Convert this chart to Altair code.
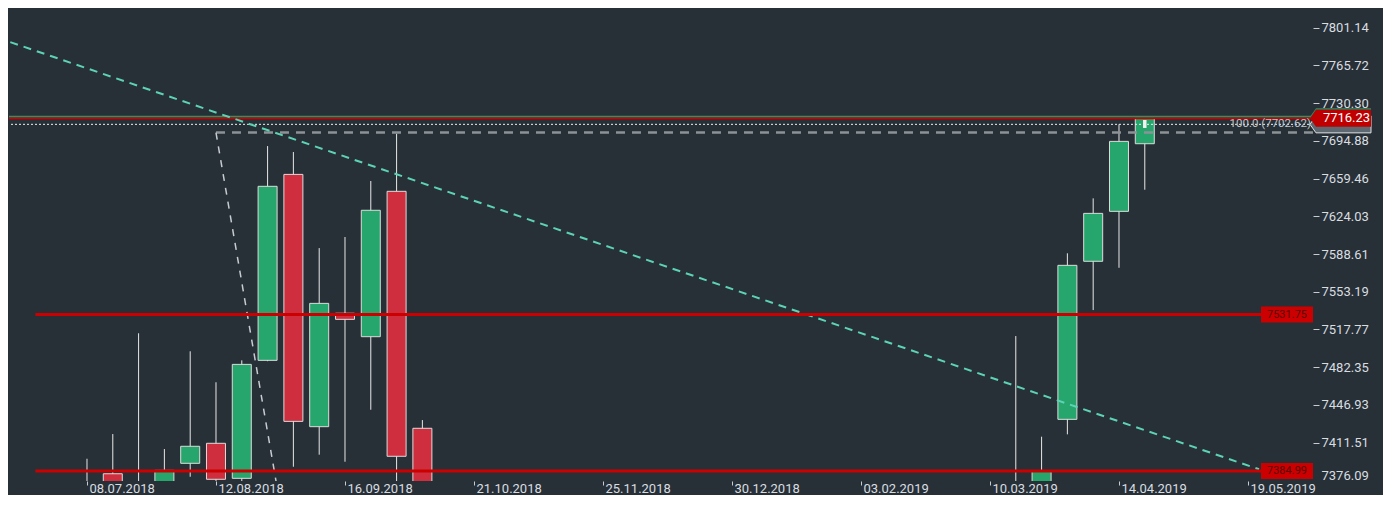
import altair as alt
import pandas as pd

# ---------------- data ----------------
dates = ["2018-07-08", "2018-07-15", "2018-07-22", "2018-07-29", "2018-08-05",
         "2018-08-12", "2018-08-19", "2018-08-26", "2018-09-02", "2018-09-09",
         "2018-09-16", "2018-09-23", "2018-09-30", "2018-10-07",
         "2019-03-17", "2019-03-24", "2019-03-31", "2019-04-07", "2019-04-14", "2019-04-21"]
opens = [7362.0, 7382.3, 7355.0, 7365.0, 7392.1, 7410.9, 7378.0, 7488.8, 7663.4, 7426.5,
         7533.0, 7511.0, 7647.5, 7425.0, 7360.0, 7362.0, 7433.4, 7581.8, 7628.7, 7692.2]
highs = [7396.4, 7419.6, 7514.2, 7405.5, 7497.3, 7468.2, 7488.8, 7690.0, 7684.4, 7594.2,
         7604.6, 7657.2, 7701.6, 7432.7, 7511.6, 7417.1, 7589.3, 7640.9, 7710.4, 7716.2]
lows = [7330.0, 7335.0, 7320.0, 7350.0, 7379.5, 7362.0, 7372.0, 7488.0, 7388.9, 7400.2,
        7393.6, 7442.4, 7368.0, 7345.0, 7340.0, 7350.0, 7419.3, 7536.0, 7575.7, 7649.0]
closes = [7355.0, 7352.0, 7360.0, 7385.5, 7408.1, 7377.1, 7485.0, 7652.2, 7431.5, 7542.3,
          7527.3, 7629.7, 7398.7, 7358.0, 7365.0, 7384.6, 7578.0, 7626.8, 7694.4, 7716.2]

xtick_dates = ["2018-07-08", "2018-08-12", "2018-09-16", "2018-10-21", "2018-11-25",
               "2018-12-30", "2019-02-03", "2019-03-10", "2019-04-14", "2019-05-19"]
ytick_values = [7376.09, 7411.51, 7446.93, 7482.35, 7517.77, 7553.19, 7588.61,
                7624.03, 7659.46, 7694.88, 7730.30, 7765.72, 7801.14]

level_values = [7531.75, 7384.99]
level_labels = ["7531.75", "7384.99"]
level_start = ["2018-06-24", "2018-06-24"]

trend_dates = ["2018-06-10", "2019-05-22"]
trend_values = [7796.1, 7386.5]

fib_dates = ["2018-08-12", "2018-08-29"]
fib_values = [7702.62, 7361.1]
fib_label = ["100.0 (7702.62)"]
fib_label_value = [7710.4]

price_current = [7716.23]
price_current_label = ["7716.23"]
price_green = [7717.6]
price_dotted = [7710.4]

marker_date = ["2019-04-21"]
marker_top = [7714.5]
marker_bottom = [7707.0]

# ---------------- helpers / styles ----------------
DAY = 86400000


def ms(s):
    return int(pd.Timestamp(s).value // 10**6)


W, H = 1304, 472
BG = "#273037"
GREEN = "#26a66d"
RED = "#cf2e3e"
LINE_RED = "#cc0000"
FONT = "Roboto"

base_ms = ms("2018-07-08")
xscale = alt.Scale(type="utc", domain=[base_ms - 21.16 * DAY, base_ms + 332.64 * DAY],
                   padding=0, nice=False)
yscale = alt.Scale(domain=[7375.5, 7818.7], zero=False, nice=False, padding=0)

xaxis = alt.Axis(values=[ms(d) for d in xtick_dates],
                 labelExpr="utcFormat(datum.value, '%d.%m.%Y')",
                 domain=False, grid=False, ticks=True, tickSize=4, tickWidth=1,
                 tickColor="#c8ccd0", labelAlign="left", labelOffset=2,
                 labelPadding=-3, labelBaseline="top", labelFont=FONT,
                 labelFontSize=13, labelColor="#d9dde0", title=None,
                 labelFlush=False, labelOverlap=False)
yaxis = alt.Axis(orient="right", values=ytick_values, format=".2f",
                 domain=False, grid=False, ticks=True, tickSize=6, tickWidth=1,
                 tickColor={"condition": {"test": "datum.value < 7380", "value": "transparent"},
                            "value": "#c8ccd0"},
                 labelOffset={"condition": {"test": "datum.value < 7380", "value": -5},
                              "value": 0},
                 labelPadding=2, labelFont=FONT, labelFontSize=13,
                 labelColor="#d9dde0", title=None, labelFlush=False,
                 labelOverlap=False)


def X(field):
    return alt.X(field, type="temporal", scale=xscale, axis=xaxis)


def Y(field):
    return alt.Y(field, type="quantitative", scale=yscale, axis=yaxis)


# ---------------- tables ----------------
candles = pd.DataFrame({"t": [ms(d) for d in dates], "open": opens, "high": highs,
                        "low": lows, "close": closes})
levels = pd.DataFrame({"t": [ms(d) for d in level_start], "v": level_values,
                       "label": level_labels})
trend = pd.DataFrame({"t": [ms(d) for d in trend_dates], "v": trend_values})
fib = pd.DataFrame({"t": [ms(d) for d in fib_dates], "v": fib_values})
fib_h = pd.DataFrame({"t": [ms(fib_dates[0])], "v": [fib_values[0]]})
fib_txt = pd.DataFrame({"v": fib_label_value, "label": fib_label})
cur = pd.DataFrame({"v": price_current, "label": price_current_label})
grn = pd.DataFrame({"v": price_green})
dot = pd.DataFrame({"v": price_dotted})
marker = pd.DataFrame({"t": [ms(d) for d in marker_date], "v": marker_top, "v2": marker_bottom})

# ---------------- layers ----------------
wicks = alt.Chart(candles).mark_rule(color="#e8e8e8", strokeWidth=1, clip=True).encode(
    x=X("t"), y=Y("low"), y2="high")

bodies = alt.Chart(candles).mark_bar(size=19, stroke="#dcdcdc", strokeWidth=1,
                                     clip=True).encode(
    x=X("t"), y=Y("open"), y2="close",
    color=alt.condition("datum.open < datum.close", alt.value(GREEN), alt.value(RED)))

mark_white = alt.Chart(marker).mark_rule(color="#f2f2f2", strokeWidth=3.5, clip=True).encode(
    x=X("t"), y=Y("v"), y2="v2")

green_line = alt.Chart(grn).mark_rule(color="#169c6c", strokeWidth=2).encode(y=Y("v"))
red_line = alt.Chart(cur).mark_rule(color=LINE_RED, strokeWidth=2).encode(y=Y("v"))
dotted_line = alt.Chart(dot).mark_rule(color="#f0f0f0", strokeWidth=1,
                                       strokeDash=[2, 2]).encode(y=Y("v"))

fib_hline = alt.Chart(fib_h).mark_rule(color="#8c9296", strokeWidth=2.5,
                                       strokeDash=[9, 7], clip=True).encode(
    x=X("t"), x2=alt.value(W), y=Y("v"))
fib_diag = alt.Chart(fib).mark_line(color="#c8ccd0", strokeWidth=1.5,
                                    strokeDash=[7, 7], clip=True).encode(
    x=X("t"), y=Y("v"))

trend_line = alt.Chart(trend).mark_line(color="#5dd3b6", strokeWidth=2,
                                        strokeDash=[8, 6], clip=True).encode(
    x=X("t"), y=Y("v"))

level_lines = alt.Chart(levels).mark_rule(color=LINE_RED, strokeWidth=3, clip=True).encode(
    x=X("t"), x2=alt.value(W), y=Y("v"))

box_path = "M -1 -0.3077 L 1 -0.3077 L 1 0.3077 L -1 0.3077 Z"
level_boxes = alt.Chart(levels).mark_point(shape=box_path, filled=True, size=2704,
                                           opacity=1, color=LINE_RED).encode(
    x=alt.value(W - 26), y=Y("v"))
level_text = alt.Chart(levels).mark_text(font=FONT, fontSize=11, color="#5a0000",
                                         align="center", baseline="middle").encode(
    x=alt.value(W - 26), y=Y("v"), text="label:N")

fib_text = alt.Chart(fib_txt).mark_text(font=FONT, fontSize=11.5, color="#c0c6cc",
                                        align="right", baseline="middle").encode(
    x=alt.value(W - 2), y=Y("v"), text="label:N")

tag_path = "M -1 0 L -0.803 -0.279 L 1 -0.279 L 1 0.279 L -0.803 0.279 Z"
tag_green = alt.Chart(grn).mark_point(shape=tag_path, filled=True, size=3721,
                                      opacity=1, color="#169c6c").encode(
    x=alt.value(W + 27.5), y=Y("v"))
tag_gray = alt.Chart(dot).mark_point(shape=tag_path, filled=False, size=3721,
                                     opacity=1, stroke="#dfe3e6", fill="#5d6870",
                                     fillOpacity=1, strokeWidth=1).encode(
    x=alt.value(W + 27.5), y=Y("v"))
tag_red = alt.Chart(cur).mark_point(shape=tag_path, filled=True, size=3721,
                                    opacity=1, color="#c00000").encode(
    x=alt.value(W + 27.5), y=Y("v"))
tag_text = alt.Chart(cur).mark_text(font=FONT, fontSize=13, color="#ffffff",
                                    align="center", baseline="middle").encode(
    x=alt.value(W + 33.5), y=Y("v"), text="label:N")

filler = alt.Chart(cur).mark_rule(color=BG, strokeWidth=1).encode(x=alt.value(W + 69))

chart = alt.layer(
    wicks, bodies, mark_white,
    green_line, red_line, dotted_line,
    fib_hline, fib_diag, trend_line,
    level_lines, level_boxes, level_text, fib_text,
    tag_green, tag_gray, tag_red, tag_text, filler,
).properties(
    width=W, height=H, background=BG, padding=0
).configure_view(strokeWidth=0)

chart.save("out.html", embed_options={"renderer": "svg", "actions": False})
